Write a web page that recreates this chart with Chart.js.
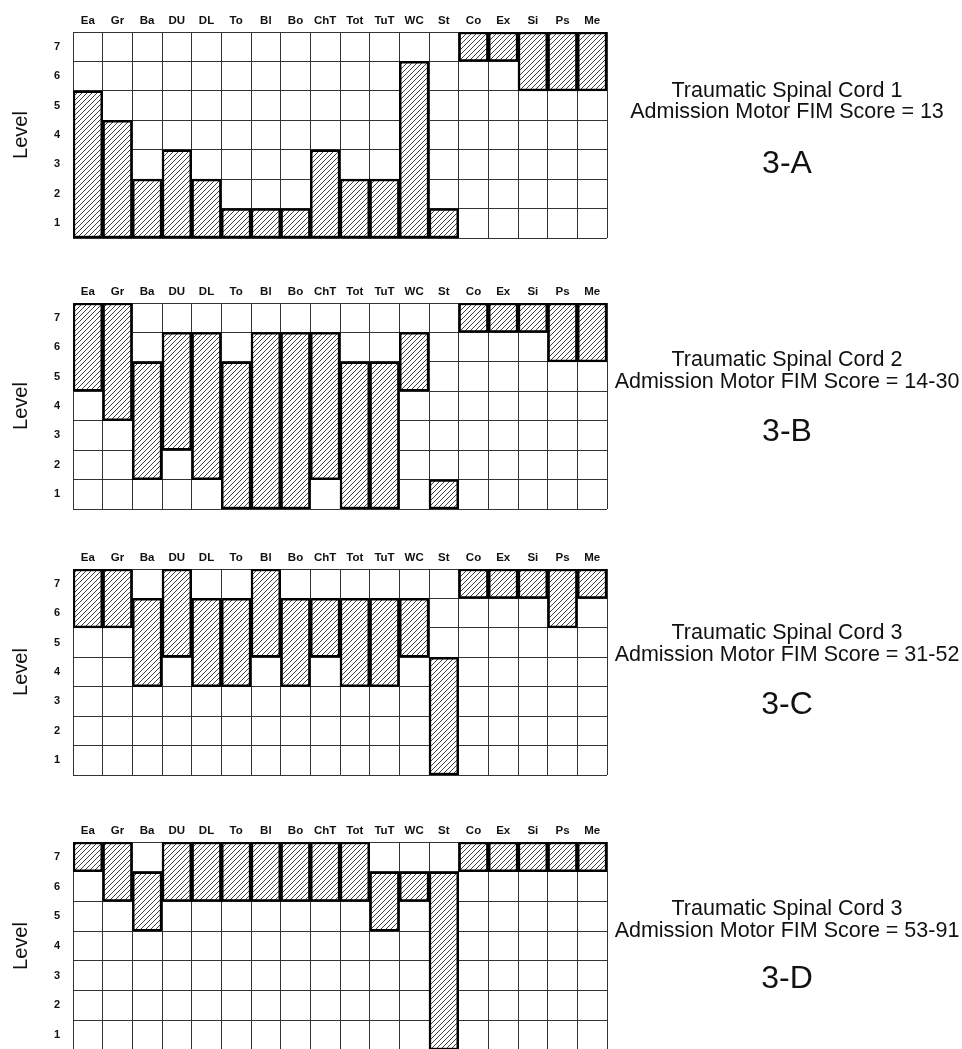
<!DOCTYPE html>
<html><head><meta charset="utf-8">
<script src="https://cdn.jsdelivr.net/npm/chart.js@4.4.1/dist/chart.umd.min.js"></script>
<style>
html,body{margin:0;padding:0;background:#fff;}
body{width:962px;height:1049px;overflow:hidden;position:relative;font-family:"Liberation Sans",Arial,Helvetica,sans-serif;color:#111;}
canvas.panel{position:absolute;left:0;}
.cap{position:absolute;left:787px;width:400px;margin-left:-200px;text-align:center;white-space:nowrap;}
.sub{font-size:21.5px;line-height:21.5px;}
.big{font-size:32px;line-height:32px;}
</style></head><body>
<canvas id="pA" class="panel" width="620" height="242" style="top:0px"></canvas>
<canvas id="pB" class="panel" width="620" height="242" style="top:271px"></canvas>
<canvas id="pC" class="panel" width="620" height="242" style="top:537px"></canvas>
<canvas id="pD" class="panel" width="620" height="244" style="top:810px"></canvas>
<div id="caps"></div>
<script>
const FONT = '"Liberation Sans", Arial, Helvetica, sans-serif';
const categories = ['Ea','Gr','Ba','DU','DL','To','Bl','Bo','ChT','Tot','TuT','WC','St','Co','Ex','Si','Ps','Me'];
const levelLabels = [1,2,3,4,5,6,7];

// lowest and highest hatched level for each category
const lowA  = [1,1,1,1,1,1,1,1,1,1,1,1,1,7,7,6,6,6];
const highA = [5,4,2,3,2,1,1,1,3,2,2,6,1,7,7,7,7,7];
const lowB  = [5,4,2,3,2,1,1,1,2,1,1,5,1,7,7,7,6,6];
const highB = [7,7,5,6,6,5,6,6,6,5,5,6,1,7,7,7,7,7];
const lowC  = [6,6,4,5,4,4,5,4,5,4,4,5,1,7,7,7,6,7];
const highC = [7,7,6,7,6,6,7,6,6,6,6,6,4,7,7,7,7,7];
const lowD  = [7,6,5,6,6,6,6,6,6,6,5,6,1,7,7,7,7,7];
const highD = [7,7,6,7,7,7,7,7,7,7,6,6,6,7,7,7,7,7];

const captionTitles = ['Traumatic Spinal Cord 1','Traumatic Spinal Cord 2','Traumatic Spinal Cord 3','Traumatic Spinal Cord 3'];
const captionScores = ['Admission Motor FIM Score = 13','Admission Motor FIM Score = 14-30','Admission Motor FIM Score = 31-52','Admission Motor FIM Score = 53-91'];
const panelIds = ['3-A','3-B','3-C','3-D'];

// layout (px) – not data
const capTops = [79.5, 349, 622, 898];
const bigTops = [145.5, 414, 687, 961];

function hatch(ctx){
  const s = 5, c = document.createElement('canvas');
  c.width = s; c.height = s;
  const g = c.getContext('2d');
  g.fillStyle = '#fff'; g.fillRect(0,0,s,s);
  g.strokeStyle = '#2a2a2a'; g.lineWidth = 0.9;
  g.beginPath();
  g.moveTo(0,s); g.lineTo(s,0);
  g.moveTo(-1,1); g.lineTo(1,-1);
  g.moveTo(s-1,s+1); g.lineTo(s+1,s-1);
  g.stroke();
  return ctx.createPattern(c,'repeat');
}

const yTicks = [];
levelLabels.forEach(l => { yTicks.push(l - 0.5); yTicks.push(l); });
yTicks.push(levelLabels[levelLabels.length-1] + 0.5);

const GRID = '#333';

function makePanel(id, low, high, gridH){
  const cv = document.getElementById(id);
  const ctx = cv.getContext('2d');
  return new Chart(ctx, {
    type: 'bar',
    data: {
      labels: categories,
      datasets: [{
        data: low.map((l,i) => [l - 0.5, high[i] + 0.5]),
        backgroundColor: hatch(ctx),
        borderColor: '#000',
        borderWidth: 2.5,
        borderSkipped: false,
        barPercentage: 1,
        categoryPercentage: 1
      }]
    },
    options: {
      animation: false,
      responsive: false,
      events: [],
      layout: {padding: {left: 0, right: 13, top: 0, bottom: cv.height - 32 - gridH}},
      plugins: {legend: {display: false}, tooltip: {enabled: false}},
      scales: {
        x: {
          type: 'category', position: 'top', offset: true, z: 1,
          grid: {offset: true, drawTicks: false, color: GRID, lineWidth: 1},
          border: {display: true, color: GRID, width: 1},
          ticks: {font: {family: FONT, size: 11.5, weight: 'bold'}, color: '#111', padding: 4, maxRotation: 0, autoSkip: false},
          afterFit: s => { s.height = 32; s.paddingLeft = 0; s.paddingRight = 0; }
        },
        y: {
          type: 'linear', min: 0.5, max: 7.5, z: 1,
          afterBuildTicks: s => { s.ticks = yTicks.map(v => ({value: v})); },
          grid: {drawTicks: false, lineWidth: 1, color: c => (c.tick && c.tick.value % 1 !== 0) ? GRID : 'rgba(0,0,0,0)'},
          border: {display: true, color: GRID, width: 1},
          ticks: {autoSkip: false, padding: 13, color: '#111', font: {family: FONT, size: 11, weight: 'bold'},
                  callback: v => Number.isInteger(v) ? String(v) : ''},
          title: {display: true, text: 'Level', color: '#111', font: {family: FONT, size: 20}, padding: {top: 9, bottom: 0}},
          afterFit: s => { s.width = 73; s.paddingTop = 0; s.paddingBottom = 0; }
        }
      }
    }
  });
}

makePanel('pA', lowA, highA, 206);
makePanel('pB', lowB, highB, 206);
makePanel('pC', lowC, highC, 206);
makePanel('pD', lowD, highD, 208);

const caps = document.getElementById('caps');
for (let i = 0; i < 4; i++){
  const d = document.createElement('div');
  d.className = 'cap sub';
  d.style.top = capTops[i] + 'px';
  d.innerHTML = captionTitles[i] + '<br>' + captionScores[i];
  caps.appendChild(d);
  const b = document.createElement('div');
  b.className = 'cap big';
  b.style.top = bigTops[i] + 'px';
  b.textContent = panelIds[i];
  caps.appendChild(b);
}
</script>
</body></html>
